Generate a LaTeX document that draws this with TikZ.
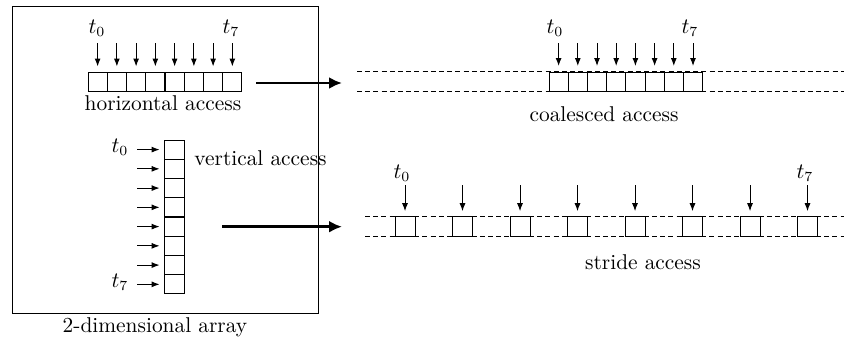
\documentclass[tikz,border=0pt]{standalone}
\usetikzlibrary{arrows.meta}
\begin{document}
\begin{tikzpicture}[x=0.5pt,y=-0.5pt,
  cell/.style={draw,line width=0.5pt,fill=white,inner sep=0pt,minimum width=9.6pt,minimum height=9.6pt},
  thinarrow/.style={line width=0.5pt,-{Latex[length=4pt,width=3pt]}},
  bigarrow/.style={line width=1.4pt,-{Latex[length=6.5pt,width=6pt]}},
  gap/.style={dashed,dash pattern=on 2.5pt off 1.6pt,line width=0.45pt},
  lbl/.style={inner sep=0pt,font=\fontsize{10.7}{12}\selectfont}]
\useasboundingbox (0,0) rectangle (844,337);

% the 2-dimensional array
\node[draw,line width=0.5pt,minimum width=153pt,minimum height=153.5pt,inner sep=0pt] (arr) at (165,159.5) {};
\node[lbl] (arrlbl) at (155,327) {2-dimensional array};

% horizontal access inside the array
\foreach \i in {0,...,7} {
  \node[cell] (h\i) at ({97.6+19.25*\i},82.2) {};
  \coordinate (hs\i) at ({97.6+19.25*\i},43);
  \draw[thinarrow,shorten >=2.8pt] (hs\i) -- (h\i.north);
}
\node[lbl] (ht0) at (97,28) {$t_0$};
\node[lbl] (ht7) at (231,28) {$t_7$};
\node[lbl] (hlbl) at (163,103) {horizontal access};

% vertical access inside the array
\foreach \i in {0,...,7} {
  \node[cell] (v\i) at (174.5,{149.6+19.25*\i}) {};
  \coordinate (vs\i) at (137,{149.6+19.25*\i});
  \draw[thinarrow,shorten >=2.4pt] (vs\i) -- (v\i.west);
}
\node[lbl] (vt0) at (120,147) {$t_0$};
\node[lbl] (vt7) at (120,282) {$t_7$};
\node[lbl,anchor=west] (vlbl) at (194,158) {vertical access};

% mapping arrows
\coordinate (a1s) at (256,83);
\coordinate (a1e) at (342,83);
\draw[bigarrow] (a1s) -- (a1e);
\coordinate (a2s) at (222,226.7);
\coordinate (a2e) at (342,226.7);
\draw[bigarrow] (a2s) -- (a2e);

% coalesced access in memory
\coordinate (c1l) at (357,71.7); \coordinate (c1r) at (844,71.7);
\coordinate (c2l) at (357,91.7); \coordinate (c2r) at (844,91.7);
\draw[gap] (c1l) -- (c1r);
\draw[gap] (c2l) -- (c2r);
\foreach \i in {0,...,7} {
  \node[cell] (c\i) at ({558.6+19.2*\i},81.7) {};
  \coordinate (cs\i) at ({558.6+19.2*\i},43);
  \draw[thinarrow,shorten >=2.8pt] (cs\i) -- (c\i.north);
}
\node[lbl] (ct0) at (555,28) {$t_0$};
\node[lbl] (ct7) at (690,28) {$t_7$};
\node[lbl] (clbl) at (604,114) {coalesced access};

% stride access in memory
\coordinate (s1l) at (365,216.7); \coordinate (s1r) at (844,216.7);
\coordinate (s2l) at (365,236.7); \coordinate (s2r) at (844,236.7);
\draw[gap] (s1l) -- (s1r);
\draw[gap] (s2l) -- (s2r);
\foreach \i in {0,...,7} {
  \node[cell,minimum width=10pt,minimum height=10pt] (s\i) at ({405+57.5*\i},226.7) {};
  \coordinate (ss\i) at ({405+57.5*\i},185);
  \draw[thinarrow,shorten >=2.5pt] (ss\i) -- (s\i.north);
}
\node[lbl] (st0) at (402,173) {$t_0$};
\node[lbl] (st7) at (805,173) {$t_7$};
\node[lbl] (slbl) at (643,262) {stride access};
\end{tikzpicture}
\end{document}
